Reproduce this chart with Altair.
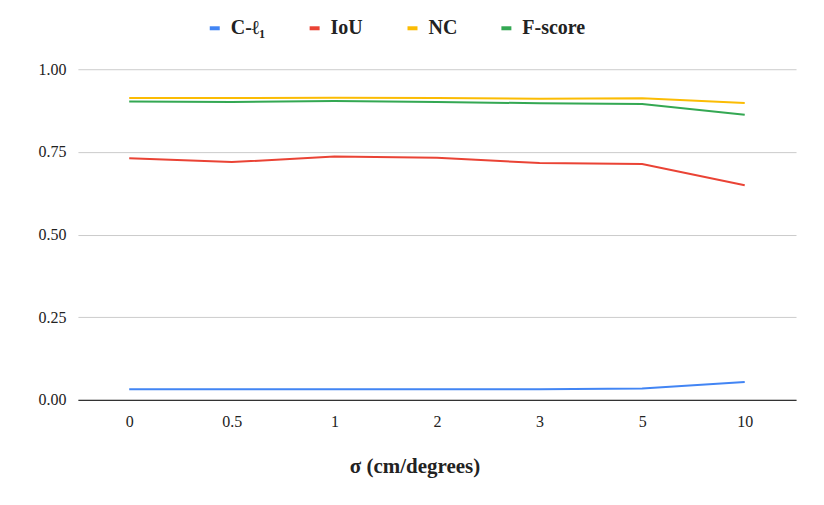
import altair as alt
import pandas as pd

sigma = ["0", "0.5", "1", "2", "3", "5", "10"]
series_names = ["C-ℓ₁", "IoU", "NC", "F-score"]
c_l1 = [0.032, 0.032, 0.032, 0.032, 0.032, 0.034, 0.054]
iou = [0.731, 0.719, 0.736, 0.732, 0.716, 0.713, 0.649]
nc = [0.913, 0.913, 0.914, 0.913, 0.911, 0.912, 0.898]
fscore = [0.902, 0.901, 0.904, 0.901, 0.897, 0.895, 0.862]
colors = ["#4285F4", "#EA4335", "#FBBC04", "#34A853"]

rows = []
for name, vals in zip(series_names, [c_l1, iou, nc, fscore]):
    for s, v in zip(sigma, vals):
        rows.append({"sigma": s, "metric": name, "value": v})
df = pd.DataFrame(rows)

serif = "Liberation Serif"

chart = alt.Chart(df).mark_line(strokeWidth=2).encode(
    x=alt.X("sigma:O", sort=sigma, scale=alt.Scale(padding=0.5),
            axis=alt.Axis(title="σ (cm/degrees)", labelAngle=0, ticks=False,
                          labelPadding=14, titlePadding=26, titleX=337,
                          domainColor="#333333", domainWidth=1.3, grid=False)),
    y=alt.Y("value:Q", scale=alt.Scale(domain=[0, 1]),
            axis=alt.Axis(title=None, values=[0, 0.25, 0.5, 0.75, 1.0], format=".2f",
                          ticks=False, domain=False, labelPadding=12,
                          gridColor="#cccccc")),
    color=alt.Color("metric:N", sort=series_names,
                    scale=alt.Scale(domain=series_names, range=colors),
                    legend=alt.Legend(title=None, orient="none", direction="horizontal",
                                      legendX=127, legendY=-51,
                                      symbolType="stroke", symbolStrokeWidth=4,
                                      symbolSize=100, columnPadding=36,
                                      labelOffset=6)),
).properties(
    width=719, height=331,
    autosize=alt.AutoSizeParams(type="none"),
    padding={"left": 70, "top": 61, "right": 20, "bottom": 90},
).configure(
    background="white", font=serif
).configure_axis(
    labelFont=serif, labelFontSize=16, labelColor="#222222",
    titleFont=serif, titleFontSize=21, titleFontWeight="bold", titleColor="#222222"
).configure_legend(
    labelFont=serif, labelFontSize=20, labelFontWeight="bold", labelColor="#222222"
).configure_view(stroke=None, strokeWidth=0)

chart.save("out.html", embed_options={"renderer": "svg", "actions": False})
